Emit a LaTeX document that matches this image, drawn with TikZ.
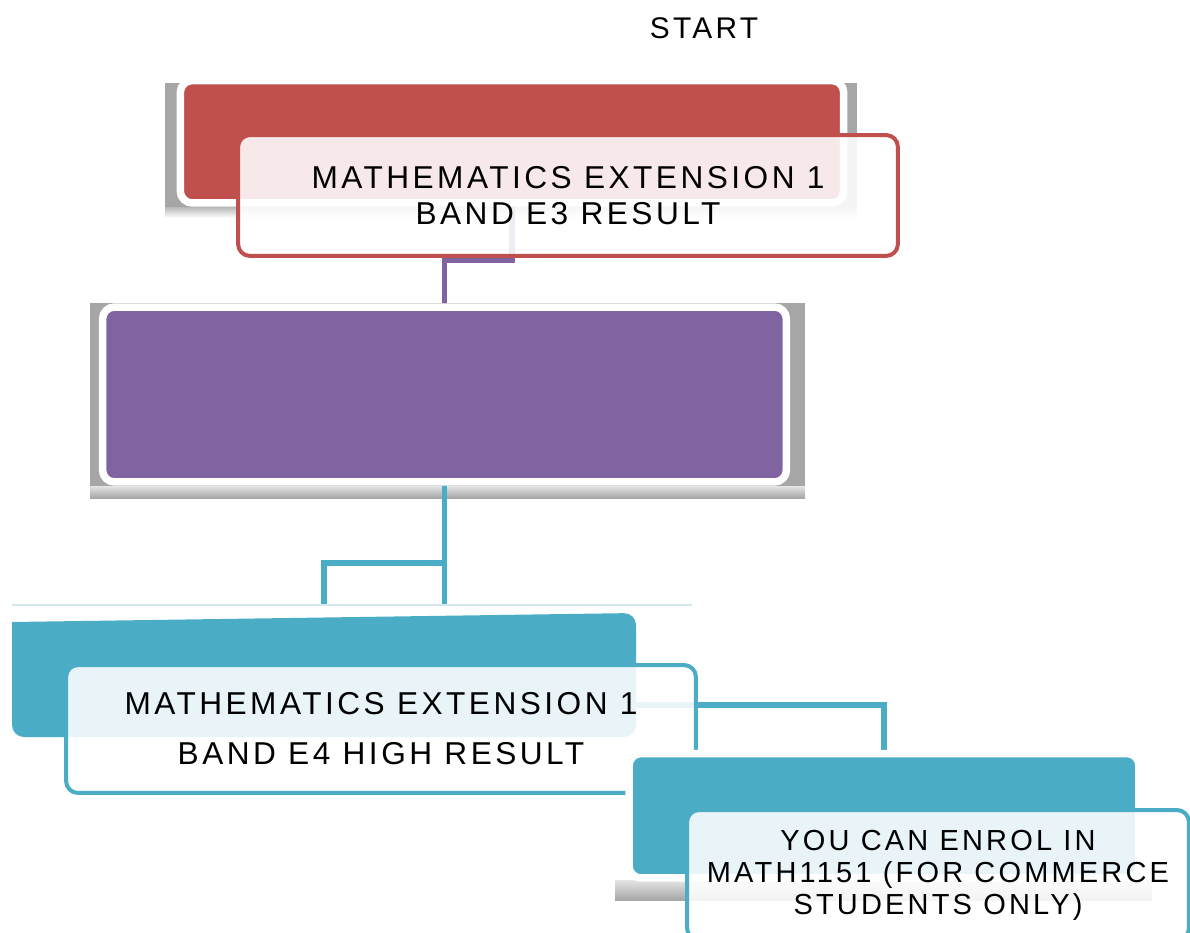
\documentclass[tikz,border=0pt]{standalone}
\usepackage{fontspec}
\setmainfont{Liberation Sans}[LetterSpace=11]
\definecolor{e3red}{HTML}{C0504D}
\definecolor{midpurple}{HTML}{8064A2}
\definecolor{e4teal}{HTML}{4BACC6}
\definecolor{shadowgray}{HTML}{A6A6A6}
\definecolor{paleteal}{HTML}{D3E9EF}
\pgfdeclarelayer{shadow}
\pgfdeclarelayer{wires}
\pgfsetlayers{shadow,wires,main}
\begin{document}
\begin{tikzpicture}[x=0.02cm, y=-0.02cm,
    backbox/.style={draw=white, line width=0.15cm, rounded corners=0.24cm, inner sep=0, outer sep=0},
    frontbox/.style={draw=#1, fill=white, fill opacity=0.88, text opacity=1, line width=0.08cm, rounded corners=0.24cm, inner sep=0, outer sep=0, align=center},
    wire/.style={draw=#1, line width=0.11cm},
    big/.style={font=\fontsize{18}{#1}\selectfont}]
        \useasboundingbox (0,0) rectangle (1190,933);
        \clip (0,0) rectangle (1190,933);
        \begin{pgfonlayer}{shadow}
          \fill[shadowgray] (165,83) rectangle (857,207);
          \shade[top color=shadowgray!80, bottom color=white] (165,207) rectangle (857,218);
          \fill[shadowgray] (90,303) rectangle (805,486);
          \shade[top color=shadowgray!30, bottom color=shadowgray] (90,486) rectangle (805,498);
          \shade[top color=shadowgray!30, bottom color=shadowgray] (615,880) rectangle (1152,900);
        \end{pgfonlayer}
        \node[font=\fontsize{17}{20}\selectfont] (start) at (704,28) {START};
        \node[backbox, fill=e3red, minimum width=13.27cm, minimum height=2.45cm] (e3back) at (512,141.75) {};
        \node[frontbox=e3red, big=20.8, minimum width=13.2cm, minimum height=2.42cm] (e3box) at (568,195.5) {MATHEMATICS EXTENSION 1\\BAND E3 RESULT};
        \node[backbox, fill=midpurple, minimum width=13.68cm, minimum height=3.5cm] (midbox) at (444.5,394.5) {};
        \draw[paleteal, line width=0.04cm] (12,605) -- (692,605);
        \fill[e4teal] (12,700) -- (12,622) -- (324,617.5) [rounded corners=0.24cm] -- (636,613) -- (636,737) -- (12,737) -- cycle;
        \node[minimum width=12.48cm, minimum height=2.64cm, inner sep=0, outer sep=0] (e4back) at (324,671) {};
        \node[frontbox=e4teal, big=28.5, minimum width=12.6cm, minimum height=2.56cm] (e4box) at (381,729) {MATHEMATICS EXTENSION 1\\BAND E4 HIGH RESULT};
        \node[backbox, fill=e4teal, minimum width=10.2cm, minimum height=2.49cm] (enrolback) at (884,815.75) {};
        \node[frontbox=e4teal, font=\fontsize{16.5}{18.2}\selectfont, minimum width=10.04cm, minimum height=2.6cm] (enrolbox) at (938,875) {YOU CAN ENROL IN\\MATH1151 (FOR COMMERCE\\STUDENTS ONLY)};
        \begin{pgfonlayer}{wires}
          \draw[wire=midpurple] (e3back.south) -- ++(0,57) -| (midbox.north);
          \draw[wire=e4teal] (midbox.south) -- (midbox.south |- e4back.north);
          \draw[wire=e4teal] (midbox.south) ++(0,81) -| (e4back.north);
          \draw[wire=e4teal] ([yshift=-0.68cm]e4back.east) -| (enrolback.north);
        \end{pgfonlayer}
      \end{tikzpicture}
\end{document}
